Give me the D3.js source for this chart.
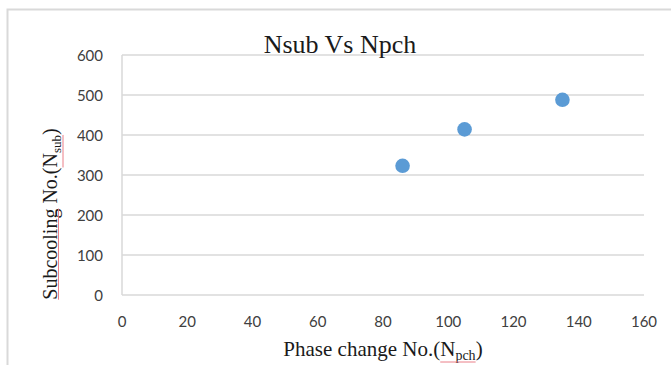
<!DOCTYPE html>
<meta charset="utf-8">
<script src="https://d3js.org/d3.v7.min.js"></script>
<style>
  body { margin: 0; background: #fff; }
</style>
<svg id="chart" width="671" height="365"></svg>
<script>

// data
var npch = [86, 105, 135];
var nsub = [323, 414, 488];
var xTicks = [0, 20, 40, 60, 80, 100, 120, 140, 160];
var yTicks = [0, 100, 200, 300, 400, 500, 600];

var svg = d3.select("#chart");
var grid = "#d9d9d9";

// outer frame (only left and top show)
svg.append("path")
  .attr("d", "M7.5,365 L7.5,9.5 L671,9.5")
  .attr("fill", "none")
  .attr("stroke", grid)
  .attr("stroke-width", 2);

var x = d3.scaleLinear().domain([0, 160]).range([122, 644]);
var y = d3.scaleLinear().domain([0, 600]).range([295, 55]);

// horizontal gridlines
svg.append("g")
  .selectAll("line")
  .data(yTicks)
  .enter()
  .append("line")
    .attr("x1", x(0))
    .attr("x2", x(160))
    .attr("y1", function(d) { return y(d); })
    .attr("y2", function(d) { return y(d); })
    .attr("stroke", grid)
    .attr("stroke-width", 1.5);

// y axis line
svg.append("line")
  .attr("x1", x(0)).attr("x2", x(0))
  .attr("y1", y(0)).attr("y2", y(600))
  .attr("stroke", grid)
  .attr("stroke-width", 1.5);

// tick labels
svg.append("g")
  .selectAll("text")
  .data(yTicks)
  .enter()
  .append("text")
    .attr("x", 103)
    .attr("y", function(d) { return y(d) + 6; })
    .attr("text-anchor", "end")
    .style("font", "15px Lato")
    .style("fill", "#404040")
    .text(function(d) { return d; });

svg.append("g")
  .selectAll("text")
  .data(xTicks)
  .enter()
  .append("text")
    .attr("x", function(d) { return x(d); })
    .attr("y", 327)
    .attr("text-anchor", "middle")
    .style("font", "15px Lato")
    .style("fill", "#404040")
    .text(function(d) { return d; });

// points
svg.append("g")
  .selectAll("circle")
  .data(npch)
  .enter()
  .append("circle")
    .attr("cx", function(d) { return x(d); })
    .attr("cy", function(d, i) { return y(nsub[i]); })
    .attr("r", 7.3)
    .attr("fill", "#5b9bd5");

// title
svg.append("text")
  .attr("x", 340)
  .attr("y", 53)
  .attr("text-anchor", "middle")
  .style("font", "26px 'Liberation Serif'")
  .style("fill", "#1a1a1a")
  .text("Nsub Vs Npch");

// red spell-check underline below a run of tspans
function squiggle(g, first, last, yy) {
  var a = first.node().getBBox(), b = last.node().getBBox();
  g.append("line")
    .attr("x1", a.x).attr("x2", b.x + b.width)
    .attr("y1", yy).attr("y2", yy)
    .attr("stroke", "#e8707a")
    .attr("stroke-width", 0.9);
}

// x axis title
var xg = svg.append("g");
var xt = xg.append("text")
  .attr("x", 383)
  .attr("y", 356)
  .attr("text-anchor", "middle")
  .style("font", "21px 'Liberation Serif'")
  .style("fill", "#1a1a1a");
xt.append("tspan").text("Phase change No.(");
var xn = xt.append("tspan").text("N");
var xs = xt.append("tspan").attr("dy", 4).style("font-size", "14px").text("pch");
xt.append("tspan").attr("dy", -4).text(")");
squiggle(xg, xn, xs, 362);

// y axis title
var yg = svg.append("g").attr("transform", "translate(57,214) rotate(-90)");
var yt = yg.append("text")
  .attr("text-anchor", "middle")
  .style("font", "20px 'Liberation Serif'")
  .style("fill", "#1a1a1a");
var yw = yt.append("tspan").text("Subcooling");
yt.append("tspan").text(" No.(");
var yn = yt.append("tspan").text("N");
var ys = yt.append("tspan").attr("dy", 4).style("font-size", "13px").text("sub");
yt.append("tspan").attr("dy", -4).text(")");
squiggle(yg, yw, yw, 1.5);
squiggle(yg, yn, ys, 6);

</script>
